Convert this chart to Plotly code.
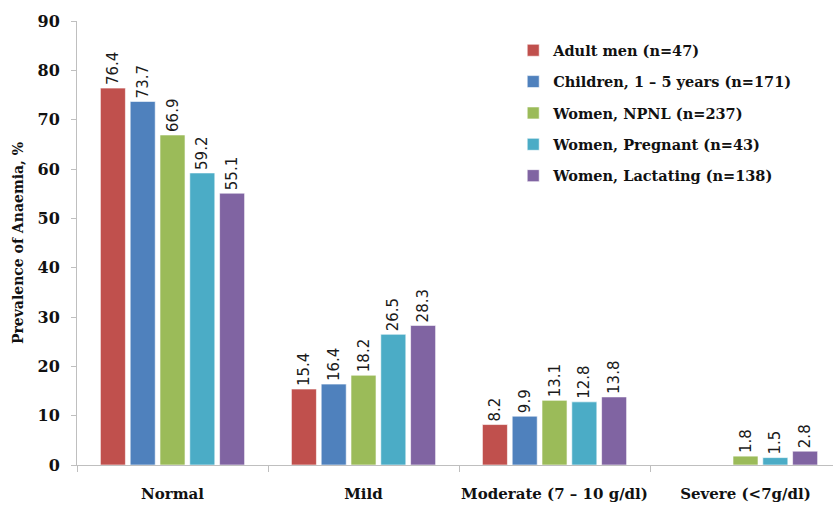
import plotly.graph_objects as go

# Anaemia prevalence by severity and population group
categories = ["Normal", "Mild", "Moderate (7 – 10 g/dl)", "Severe (<7g/dl)"]
series_names = [
    "Adult men (n=47)",
    "Children, 1 – 5 years (n=171)",
    "Women, NPNL (n=237)",
    "Women, Pregnant (n=43)",
    "Women, Lactating (n=138)",
]
adult_men = [76.4, 15.4, 8.2, None]
children = [73.7, 16.4, 9.9, None]
women_npnl = [66.9, 18.2, 13.1, 1.8]
women_pregnant = [59.2, 26.5, 12.8, 1.5]
women_lactating = [55.1, 28.3, 13.8, 2.8]
y_ticks = [0, 10, 20, 30, 40, 50, 60, 70, 80, 90]

colors = ["#C0504D", "#4F81BD", "#9BBB59", "#4BACC6", "#8064A2"]
serif = "DejaVu Serif"

fig = go.Figure()
for name, vals, col in zip(
    series_names,
    [adult_men, children, women_npnl, women_pregnant, women_lactating],
    colors,
):
    fig.add_trace(
        go.Bar(
            name=name,
            x=categories,
            y=vals,
            marker=dict(color=col, line=dict(color="rgba(255,255,255,0.6)", width=1)),
            text=[f"{v:.1f}" if v is not None else "" for v in vals],
            textposition="outside",
            textangle=-90,
            constraintext="none",
            textfont=dict(family="DejaVu Sans", size=15, color="#1a1a1a"),
            cliponaxis=False,
            legendgroup=name,
        )
    )

fig.update_layout(
    width=833,
    height=505,
    margin=dict(l=77, r=0, t=21, b=40, autoexpand=False),
    paper_bgcolor="white",
    plot_bgcolor="white",
    barmode="group",
    bargap=0.22,
    bargroupgap=0.16,
    showlegend=True,
    legend=dict(
        x=0.577,
        y=0.97,
        xanchor="left",
        yanchor="top",
        font=dict(family=serif, size=14.5, color="#111111", weight="bold"),
        tracegroupgap=9.5,
        bgcolor="rgba(0,0,0,0)",
    ),
    xaxis=dict(
        type="category",
        range=[-0.5, 3.458],
        automargin=False,
        showline=True,
        linecolor="#BFBFBF",
        linewidth=1,
        ticks="outside",
        tickson="boundaries",
        ticklen=6,
        tickcolor="#BFBFBF",
        tickangle=0,
        tickfont=dict(family=serif, size=15, color="#111111", weight="bold"),
        ticklabelstandoff=15,
        showgrid=False,
    ),
    yaxis=dict(
        range=[0, 90],
        tickvals=y_ticks,
        automargin=False,
        showline=True,
        linecolor="#BFBFBF",
        linewidth=1,
        ticks="outside",
        ticklen=5,
        tickcolor="#BFBFBF",
        tickfont=dict(family=serif, size=16, color="#111111", weight="bold"),
        ticklabelstandoff=8,
        showgrid=False,
        zeroline=False,
        title=dict(
            text="Prevalence of Anaemia, %",
            font=dict(family=serif, size=14, color="#111111", weight="bold"),
            standoff=10,
        ),
    ),
)

fig.write_html("out.html")
